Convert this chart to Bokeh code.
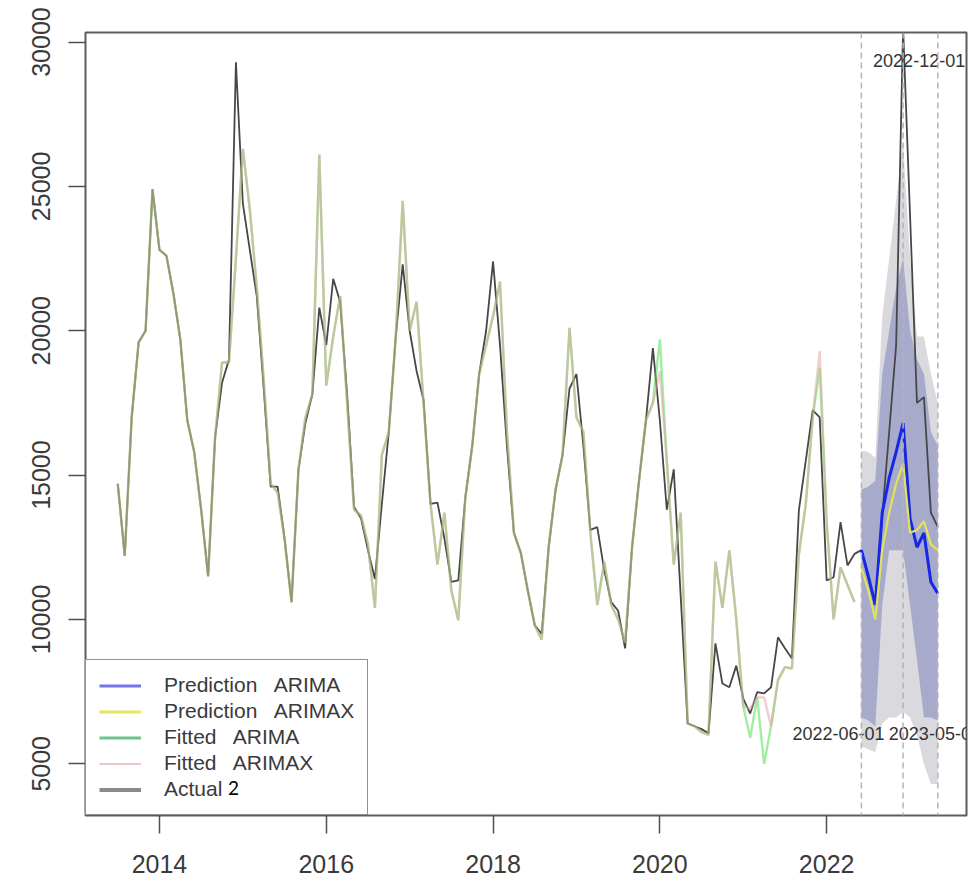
import numpy as np
from bokeh.plotting import figure
from bokeh.models import (Range1d, FixedTicker, Span, ColumnDataSource,
                          Legend, LegendItem)
from bokeh.core.properties import value
from bokeh.embed import file_html
from bokeh.resources import INLINE

# ---------------- data (monthly) ----------------
series_start = (2013, 7)          # first month of the actual series
forecast_start = (2022, 6)        # first forecast month

actual = [
    14700, 12200, 17000, 19600, 20000, 24900,                                   # 2013-07..12
    22800, 22600, 21300, 19700, 16900, 15800, 13800, 11500, 16300, 18200, 19000, 29300,  # 2014
    24400, 22800, 21200, 18000, 14600, 14600, 12800, 10600, 15200, 16800, 17800, 20800,  # 2015
    19500, 21800, 21000, 17800, 13900, 13500, 12400, 11400, 14000, 16500, 19800, 22300,  # 2016
    20000, 18600, 17600, 14000, 14050, 12800, 11300, 11350, 14200, 16000, 18500, 20000,  # 2017
    22400, 19500, 16000, 13000, 12300, 11000, 9800, 9500, 12500, 14500, 15700, 18000,    # 2018
    18500, 16000, 13100, 13200, 11700, 10600, 10300, 9000, 12500, 14800, 16900, 19400,   # 2019
    16900, 13800, 15200, 10800, 6400, 6300, 6200, 6060, 9170, 7780, 7650, 8400,          # 2020
    7260, 6740, 7480, 7440, 7650, 9380, 9000, 8650, 13770, 15500, 17250, 17000,          # 2021
    11350, 11460, 13370, 11870, 12270, 12400, 11400, 10600, 13600, 16500, 19500, 30500,  # 2022
    24000, 17500, 17700, 13700, 13200,                                          # 2023-01..05
]

fitted_arima = [
    14700, 12200, 17000, 19600, 20000, 24900,
    22800, 22600, 21300, 19700, 16900, 15800, 13800, 11500, 16300, 18900, 18900, 22500,
    26300, 24200, 21500, 18300, 14700, 14400, 12800, 10600, 15200, 17000, 17800, 26100,
    18100, 19800, 21200, 17500, 13800, 13600, 12600, 10400, 15700, 16500, 19800, 24500,
    20000, 21000, 17500, 14000, 11900, 13700, 11000, 9970, 14200, 16000, 18500, 19500,
    20500, 21700, 16500, 13000, 12300, 11000, 9800, 9300, 12500, 14500, 15700, 20100,
    17000, 16500, 13000, 10500, 12000, 10500, 10000, 9200, 12500, 14800, 16900, 17500,
    19700, 15500, 11900, 13700, 6400, 6300, 6100, 6000, 12000, 10400, 12400, 10000,
    7000, 5900, 7300, 5000, 6300, 7900, 8350, 8300, 12250, 14000, 17000, 18700,
    13400, 10000, 11800, 11200, 10600,
]

fitted_arimax = [
    14700, 12200, 17000, 19600, 20000, 24900,
    22800, 22600, 21300, 19700, 16900, 15800, 13800, 11500, 16300, 18900, 18900, 22500,
    26300, 24200, 21500, 18300, 14700, 14400, 12800, 10600, 15200, 17000, 17800, 26100,
    18100, 19800, 21200, 17500, 13800, 13600, 12600, 10400, 15700, 16500, 19800, 24500,
    20000, 21000, 17500, 14000, 11900, 13700, 11000, 9970, 14200, 16000, 18500, 19500,
    20500, 21700, 16500, 13000, 12300, 11000, 9800, 9300, 12500, 14500, 15700, 20100,
    17000, 16500, 13000, 10500, 12000, 10500, 10000, 9200, 12500, 14800, 16900, 17500,
    18600, 15500, 11900, 13700, 6400, 6300, 6100, 6000, 12000, 10400, 12400, 10000,
    7000, 6900, 7300, 7300, 6300, 7900, 8350, 8300, 12250, 14000, 17000, 19300,
    13400, 10000, 11800, 11200, 10600,
]

pred_arima    = [12400, 11500, 10500, 13700, 14900, 15800, 16800, 13500, 12500, 13000, 11300, 10900]
pred_arima_lo = [6600, 6500, 6300, 10500, 12400, 12400, 12400, 10500, 8600, 6600, 6600, 6500]
pred_arima_hi = [14500, 14600, 14800, 18500, 20000, 21500, 22500, 20000, 19000, 18500, 16500, 16000]

pred_arimax    = [11800, 11000, 10000, 12400, 13700, 14700, 15400, 13000, 13100, 13400, 12600, 12400]
pred_arimax_lo = [5600, 5500, 5400, 6400, 6600, 6600, 6800, 6600, 6000, 5000, 4300, 4300]
pred_arimax_hi = [15850, 15800, 15600, 20500, 22500, 24500, 26500, 22500, 19800, 19800, 18500, 17500]

marker_dates = ["2022-06-01", "2022-12-01", "2023-05-01"]
x_ticks = [2014, 2016, 2018, 2020, 2022]
y_ticks = [5000, 10000, 15000, 20000, 25000, 30000]
legend_labels = ["Prediction   ARIMA", "Prediction   ARIMAX",
                 "Fitted   ARIMA", "Fitted   ARIMAX", "Actual"]
legend_note = "2"   # the stray "2" written after "Actual" in the legend


# ---------------- helpers ----------------
def month_axis(start, n):
    y, m = start
    return [y + (m - 1 + k) / 12.0 for k in range(n)]


def date_to_year(s):
    y, m, _ = s.split("-")
    return int(y) + (int(m) - 1) / 12.0


t_actual = month_axis(series_start, len(actual))
t_fit_a = month_axis(series_start, len(fitted_arima))
t_fit_x = month_axis(series_start, len(fitted_arimax))
t_fc = month_axis(forecast_start, len(pred_arima))

# ---------------- figure ----------------
p = figure(width=974, height=882, output_backend="svg", toolbar_location=None,
           x_range=Range1d(2013.113, 2023.677), y_range=Range1d(3209, 30331),
           min_border_left=85, min_border_right=8, min_border_top=32,
           min_border_bottom=67)
p.background_fill_color = "white"
p.border_fill_color = "white"
p.grid.visible = False
p.outline_line_color = "#5c5c5c"
p.outline_line_width = 2

for ax in (p.xaxis[0], p.yaxis[0]):
    ax.axis_line_color = None
    ax.major_tick_line_color = "#505050"
    ax.major_tick_line_width = 1.5
    ax.major_tick_in = 0
    ax.minor_tick_line_color = None
    ax.major_label_text_font = "Liberation Sans"
    ax.major_label_text_font_size = "25px"
    ax.major_label_text_color = "#3a3a3a"
p.xaxis.ticker = FixedTicker(ticks=x_ticks)
p.yaxis.ticker = FixedTicker(ticks=y_ticks)
p.xaxis.major_tick_out = 18
p.xaxis.major_label_standoff = 21
p.yaxis.major_tick_out = 17
p.yaxis.major_label_standoff = 18
p.yaxis.major_label_orientation = "vertical"

# prediction intervals
p.varea(x=t_fc, y1=pred_arimax_lo, y2=pred_arimax_hi,
        fill_color="#c0c0c8", fill_alpha=0.6)
p.varea(x=t_fc, y1=pred_arima_lo, y2=pred_arima_hi,
        fill_color="#626aad", fill_alpha=0.42)

# lines
p.line(t_actual, actual, line_color="#474747", line_width=1.8)
p.line(t_fit_a, fitted_arima, line_color="#44dd44", line_alpha=0.5, line_width=2.4)
p.line(t_fit_x, fitted_arimax, line_color="#e0a0a0", line_alpha=0.5, line_width=2.4)
p.line(t_fc, pred_arima, line_color="#1428e6", line_width=3)
p.line(t_fc, pred_arimax, line_color="#e2e25a", line_width=2.2)

# dashed markers at dates
for d in marker_dates:
    p.add_layout(Span(location=date_to_year(d), dimension="height",
                      line_color="#b4b4b4", line_dash="6 4", line_width=1.5))

label_levels = [6050, 29370, 6050]
label_dx = [-69, -30, -49]
lab_src = ColumnDataSource(dict(x=[date_to_year(d) for d in marker_dates],
                                y=label_levels, text=marker_dates, dx=label_dx))
p.text(x="x", y="y", text="text", x_offset="dx", source=lab_src,
       text_font=value("Liberation Sans"), text_font_size="18px",
       text_color="#333333", text_align="left", text_baseline="middle")

# legend (styled like the reference legend)
legend_colors = ["#7474e8", "#e6e65c", "#6cc68a", "#f0c4c4", "#8a8a8a"]
legend_widths = [3, 3, 3, 2, 4]
items = []
for lab, col, w in zip(legend_labels, legend_colors, legend_widths):
    r = p.line(x=[np.nan], y=[np.nan], line_color=col, line_width=w)
    items.append(LegendItem(label=lab, renderers=[r]))
legend = Legend(items=items, location="bottom_left", margin=0, padding=13,
                spacing=2, glyph_width=42, glyph_height=21, label_height=21,
                label_standoff=23, border_line_color="#222222",
                border_line_width=1.5, background_fill_color="white",
                background_fill_alpha=1.0, label_text_font="Liberation Sans",
                label_text_font_size="21px", label_text_color="#3a3a3a")
p.add_layout(legend)

# the "2" after "Actual": a second, borderless legend laid over the first
note_r = p.line(x=[np.nan], y=[np.nan], line_alpha=0)
note = Legend(items=[LegendItem(label=legend_note, renderers=[note_r])],
              location=(143, 16), margin=0, padding=0, spacing=0,
              glyph_width=0, glyph_height=18, label_height=18,
              label_standoff=0, border_line_color=None,
              background_fill_alpha=0, label_text_font="Lato",
              label_text_font_size="19px", label_text_color="black")
p.add_layout(note)

open("out.html", "w").write(file_html(p, INLINE))
